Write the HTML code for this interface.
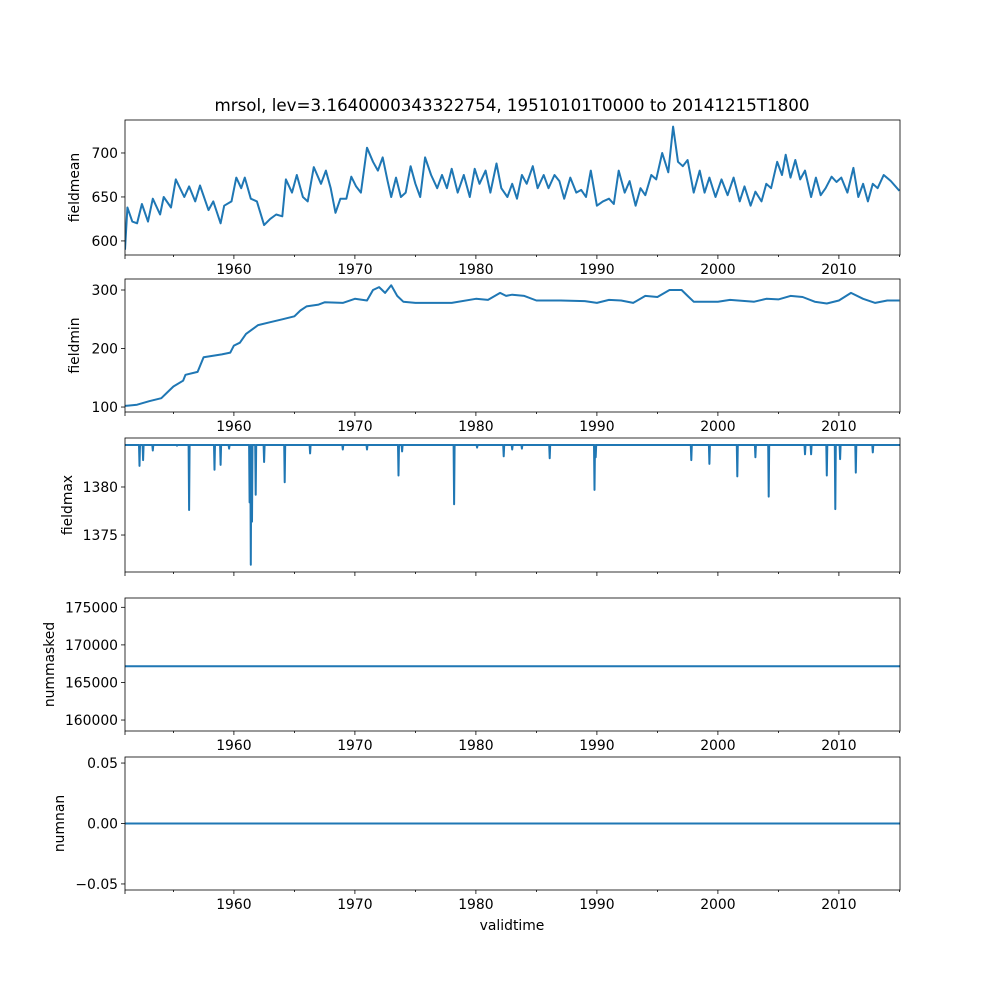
<!DOCTYPE html>
<html><head><meta charset="utf-8"><style>
body{margin:0;background:#fff;}
svg{display:block;font-family:"DejaVu Sans","Liberation Sans",sans-serif;}
</style></head><body>
<svg id="c" width="1000" height="1000"></svg>
<script>
const fmYears=[1951.0,1951.2,1951.6,1952.0,1952.4,1952.9,1953.3,1953.9,1954.2,1954.8,1955.2,1955.9,1956.3,1956.8,1957.2,1957.9,1958.3,1958.9,1959.2,1959.8,1960.2,1960.6,1960.9,1961.4,1961.9,1962.5,1963.0,1963.5,1964.0,1964.3,1964.8,1965.2,1965.7,1966.1,1966.6,1967.2,1967.6,1968.0,1968.4,1968.8,1969.3,1969.7,1970.1,1970.5,1971.0,1971.5,1971.9,1972.3,1972.7,1973.0,1973.4,1973.8,1974.2,1974.6,1975.0,1975.4,1975.8,1976.3,1976.8,1977.2,1977.6,1978.0,1978.5,1979.0,1979.5,1979.9,1980.3,1980.8,1981.2,1981.7,1982.1,1982.6,1983.0,1983.4,1983.8,1984.2,1984.7,1985.1,1985.6,1986.0,1986.5,1986.9,1987.3,1987.8,1988.3,1988.7,1989.1,1989.5,1990.0,1990.5,1991.0,1991.4,1991.8,1992.3,1992.7,1993.2,1993.6,1994.0,1994.5,1994.9,1995.4,1995.9,1996.3,1996.7,1997.1,1997.5,1998.0,1998.5,1998.9,1999.3,1999.8,2000.3,2000.8,2001.3,2001.8,2002.2,2002.7,2003.1,2003.6,2004.0,2004.4,2004.9,2005.3,2005.6,2006.0,2006.4,2006.8,2007.2,2007.7,2008.1,2008.5,2008.9,2009.4,2009.8,2010.2,2010.7,2011.2,2011.6,2012.0,2012.4,2012.8,2013.2,2013.7,2014.3,2015.0];
const fmValues=[590,638,622,620,642,622,648,630,650,638,670,650,662,645,663,635,645,620,640,645,672,660,672,648,645,618,625,630,628,670,655,675,650,645,684,665,680,660,632,648,648,673,662,655,706,690,680,695,668,650,672,650,655,685,665,650,695,675,660,675,660,682,655,675,650,682,665,680,655,688,660,650,665,648,675,665,685,660,675,660,675,668,648,672,655,658,650,680,640,645,648,642,680,655,668,640,660,652,675,670,700,678,730,690,685,692,655,680,655,672,650,670,652,672,645,662,640,656,645,665,660,690,675,698,672,692,670,680,650,672,652,660,673,667,672,655,683,650,665,645,665,660,675,668,657];
const fminYears=[1951,1952,1953,1954,1954.5,1955,1955.8,1956,1957,1957.5,1959,1959.7,1960,1960.5,1961,1962,1963,1964,1965,1965.5,1966,1967,1967.5,1969,1970,1971,1971.5,1972,1972.5,1973,1973.5,1974,1975,1978,1980,1981,1982,1982.5,1983,1984,1985,1987,1989,1990,1991,1992,1993,1994,1995,1996,1997,1997.5,1998,2000,2001,2003,2004,2005,2006,2007,2008,2009,2010,2011,2012,2013,2014,2015];
const fminValues=[102,104,110,115,125,135,145,155,160,185,190,193,205,210,225,240,245,250,255,265,272,275,279,278,285,282,300,305,295,308,290,280,278,278,285,283,295,290,292,290,282,282,281,278,283,282,278,290,288,300,300,290,280,280,283,280,285,284,290,288,280,277,282,295,285,278,282,282];
const fmaxBase=1384.37;
const fmaxSpikeYears=[1952.2,1952.5,1953.3,1955.3,1956.3,1958.4,1958.9,1959.6,1961.3,1961.4,1961.5,1961.8,1962.5,1964.2,1966.3,1969.0,1971.0,1973.6,1973.9,1978.2,1980.1,1982.3,1983.0,1983.8,1986.1,1989.8,1989.9,1997.8,1999.3,2001.6,2003.1,2004.2,2007.2,2007.7,2009.0,2009.7,2010.1,2011.4,2012.8];
const fmaxSpikeValues=[1382.2,1382.8,1383.8,1384.3,1377.6,1381.8,1382.3,1384.0,1378.4,1371.9,1376.4,1379.2,1382.6,1380.5,1383.5,1383.9,1383.9,1381.2,1383.7,1378.2,1384.1,1383.2,1383.9,1384.0,1383.0,1379.7,1383.1,1382.8,1382.4,1381.1,1383.1,1379.0,1383.4,1383.4,1381.2,1377.7,1382.9,1381.5,1383.6];
const nmValue=167150;
const nnValue=0;
const xTicks=[1960,1970,1980,1990,2000,2010];

const svg=document.getElementById('c');
const NS='http://www.w3.org/2000/svg';
const X0=125,X1=900,D0=1951.0,D1=2015.05;
const FS=13.9;
const sx=v=>X0+(v-D0)/(D1-D0)*(X1-X0);
function el(t,a,p){const e=document.createElementNS(NS,t);for(const k in a)e.setAttribute(k,a[k]);(p||svg).appendChild(e);return e;}
const panels=[
 {name:'fieldmean',top:120,bot:255,lo:584,hi:737.5,ticks:[600,650,700],fmt:v=>v},
 {name:'fieldmin',top:279,bot:412,lo:91.5,hi:318.8,ticks:[100,200,300],fmt:v=>v},
 {name:'fieldmax',top:438,bot:572,lo:1371.15,hi:1385.1,ticks:[1375,1380],fmt:v=>v},
 {name:'nummasked',top:598,bot:731,lo:158540,hi:176240,ticks:[160000,165000,170000,175000],fmt:v=>v},
 {name:'numnan',top:757,bot:890,lo:-0.055,hi:0.055,ticks:[-0.05,0,0.05],fmt:v=>v.toFixed(2).replace('-','\u2212')}
];
const t=el('text',{x:512,y:111,'text-anchor':'middle','font-size':16.7});
t.textContent='mrsol, lev=3.1640000343322754, 19510101T0000 to 20141215T1800';


panels.forEach((p,i)=>{
 const g=el('g',{});
 
 
 const sy=v=>p.bot-(v-p.lo)/(p.hi-p.lo)*(p.bot-p.top);
 p.sy=sy;p.g=g;
 p.ticks.forEach(v=>{const y=sy(v);el('line',{x1:X0-4,x2:X0,y1:y,y2:y,stroke:'#000','stroke-width':0.8},g);
  const tx=el('text',{x:X0-7,y:y+5,'text-anchor':'end','font-size':FS},g);tx.textContent=p.fmt(v);
  });
 for(let y=1955;y<=2015;y+=5){const x=sx(y);const maj=y%10==0;el('line',{x1:x,x2:x,y1:p.bot,y2:p.bot+(maj?4:2),stroke:'#000','stroke-width':0.8},g);}
 el('line',{x1:X0,x2:X0,y1:p.bot,y2:p.bot+4,stroke:'#000','stroke-width':0.8},g);
 if(i!=2){xTicks.forEach(v=>{const tx=el('text',{x:sx(v),y:p.bot+19,'text-anchor':'middle','font-size':FS},g);tx.textContent=v;
  });}
 const yl=el('text',{transform:`translate(${p.name=='fieldmax'?72:(p.name=='nummasked'?54:(p.name=='numnan'?64:79))},${(p.top+p.bot)/2}) rotate(-90)`,'text-anchor':'middle','font-size':FS},g);
 yl.textContent=p.name;
 
 
});
function line(p,pts,name){
 const d=pts.map((q,i)=>(i?'L':'M')+q[0].toFixed(1)+','+q[1].toFixed(1)).join('');
 const cp=el('clipPath',{id:'cp'+name});el('rect',{x:X0,y:p.top,width:X1-X0,height:p.bot-p.top},cp);
 const e=el('path',{d:d,fill:'none',stroke:'#1f77b4','stroke-width':2,'stroke-linejoin':'round','clip-path':'url(#cp'+name+')'},p.g);
 
 
}
line(panels[0],fmYears.map((y,i)=>[sx(y),panels[0].sy(fmValues[i])]),'fieldmean');
line(panels[1],fminYears.map((y,i)=>[sx(y),panels[1].sy(fminValues[i])]),'fieldmin');
(function(){const p=panels[2];const pts=[[sx(D0),p.sy(fmaxBase)]];
 fmaxSpikeYears.forEach((y,i)=>{const x=sx(y);pts.push([x-0.5,p.sy(fmaxBase)]);pts.push([x,p.sy(fmaxSpikeValues[i])]);pts.push([x+0.5,p.sy(fmaxBase)]);});
 pts.push([sx(D1),p.sy(fmaxBase)]);line(p,pts,'fieldmax');})();
line(panels[3],[[sx(D0),panels[3].sy(nmValue)],[sx(D1),panels[3].sy(nmValue)]],'nummasked');
line(panels[4],[[sx(D0),panels[4].sy(nnValue)],[sx(D1),panels[4].sy(nnValue)]],'numnan');
panels.forEach(p=>{const r=el('rect',{x:X0,y:p.top,width:X1-X0,height:p.bot-p.top,fill:'none',stroke:'#000','stroke-width':0.8},p.g);
 });
const xl=el('text',{x:512,y:930,'text-anchor':'middle','font-size':FS});
xl.textContent='validtime';


</script>
</body></html>
